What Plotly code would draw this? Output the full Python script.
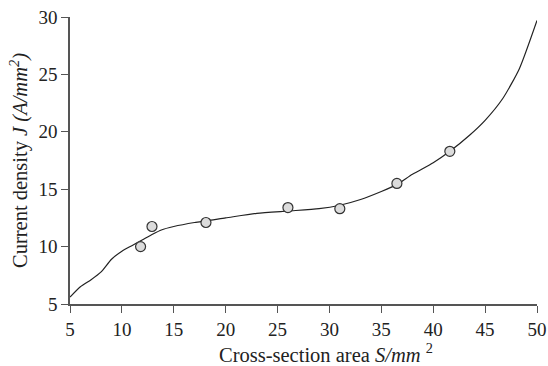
import plotly.graph_objects as go

# Fitted curve
curve_x = [5, 6, 7, 8, 9, 10, 11, 12, 13, 13.8, 15, 17, 20, 23, 26, 29, 31, 33, 35, 36.5, 38, 40, 41.6, 43.5, 45, 46.7, 48.3, 50]
curve_y = [5.6, 6.5, 7.1, 7.8, 8.9, 9.6, 10.1, 10.6, 11.1, 11.45, 11.75, 12.1, 12.5, 12.9, 13.1, 13.3, 13.6, 14.1, 14.8, 15.4, 16.3, 17.3, 18.3, 19.7, 21.0, 22.9, 25.5, 29.7]

# Measured points
pts_x = [11.8, 12.9, 18.1, 26.0, 31.0, 36.5, 41.6]
pts_y = [10.0, 11.75, 12.1, 13.4, 13.3, 15.5, 18.3]

x_ticks = [5, 10, 15, 20, 25, 30, 35, 40, 45, 50]
y_ticks = [5, 10, 15, 20, 25, 30]

x_title = "Cross-section area <i>S/mm</i> <sup>2</sup>"
y_title = "Current density <i>J (A/mm<sup>2</sup>)</i>"

fig = go.Figure()
fig.add_trace(go.Scatter(x=curve_x, y=curve_y, mode="lines",
                         line=dict(color="#222222", width=1.2, shape="spline", smoothing=0.6),
                         showlegend=False, hoverinfo="skip"))
fig.add_trace(go.Scatter(x=pts_x, y=pts_y, mode="markers",
                         marker=dict(symbol="circle", size=10, color="#dcdcdc",
                                     line=dict(color="#333333", width=1.2)),
                         showlegend=False))

tick_font = dict(family="Liberation Serif", size=19, color="#222222")
title_font = dict(family="Liberation Serif", size=20.5, color="#222222")

fig.update_layout(
    width=548, height=366,
    margin=dict(l=70, r=11, t=17, b=62),
    plot_bgcolor="white", paper_bgcolor="white",
    font=tick_font,
    xaxis=dict(range=[5, 50], tickvals=x_ticks, showgrid=False, zeroline=False,
               showline=True, linecolor="#555555", linewidth=1.6, automargin=False,
               ticks="outside", ticklen=7, tickwidth=1.4, tickcolor="#555555",
               tickfont=tick_font),
    yaxis=dict(range=[5, 30], tickvals=y_ticks, showgrid=False, zeroline=False,
               showline=True, linecolor="#555555", linewidth=1.6, automargin=False,
               ticks="outside", ticklen=7, tickwidth=1.4, tickcolor="#555555",
               tickfont=tick_font,
               title=dict(text=y_title, font=title_font, standoff=5)),
    annotations=[dict(text=x_title, xref="paper", yref="paper", x=0.548, y=0,
                      xanchor="center", yanchor="top", yshift=-34, showarrow=False,
                      font=title_font)],
)

fig.write_html("out.html")
